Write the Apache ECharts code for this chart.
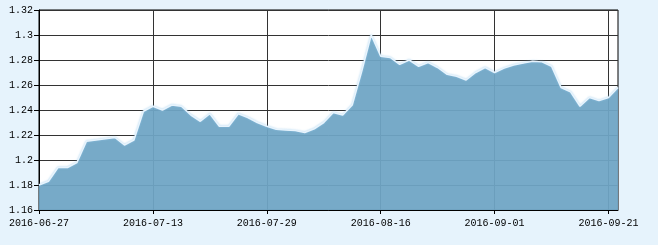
<!DOCTYPE html>
<html>
<head>
<meta charset="utf-8">
<script src="https://cdn.jsdelivr.net/npm/echarts@6/dist/echarts.min.js"></script>
<style>
html,body{margin:0;padding:0;background:#e6f3fc;}
#c{width:658px;height:245px;}
</style>
</head>
<body>
<div id="c"></div>
<script>
var dates = [
'2016-06-27','2016-06-28','2016-06-29','2016-06-30','2016-07-01',
'2016-07-04','2016-07-05','2016-07-06','2016-07-07','2016-07-08',
'2016-07-11','2016-07-12','2016-07-13','2016-07-14','2016-07-15',
'2016-07-18','2016-07-19','2016-07-20','2016-07-21','2016-07-22',
'2016-07-25','2016-07-26','2016-07-27','2016-07-28','2016-07-29',
'2016-08-01','2016-08-02','2016-08-03','2016-08-04','2016-08-05',
'2016-08-08','2016-08-09','2016-08-10','2016-08-11','2016-08-12',
'2016-08-15','2016-08-16','2016-08-17','2016-08-18','2016-08-19',
'2016-08-22','2016-08-23','2016-08-24','2016-08-25','2016-08-26',
'2016-08-29','2016-08-30','2016-08-31','2016-09-01','2016-09-02',
'2016-09-05','2016-09-06','2016-09-07','2016-09-08','2016-09-09',
'2016-09-12','2016-09-13','2016-09-14','2016-09-19','2016-09-20',
'2016-09-21','2016-09-22'
];
var values = [
1.180,1.183,1.194,1.194,1.198,
1.215,1.216,1.217,1.218,1.212,
1.216,1.239,1.243,1.240,1.244,
1.243,1.236,1.231,1.237,1.227,
1.227,1.237,1.234,1.230,1.227,
1.2245,1.224,1.2235,1.222,1.225,
1.230,1.238,1.236,1.244,1.271,
1.300,1.283,1.282,1.2765,1.280,
1.275,1.278,1.274,1.2685,1.267,
1.264,1.270,1.274,1.270,1.2735,
1.276,1.2775,1.279,1.2785,1.275,
1.258,1.2545,1.243,1.250,1.2475,
1.250,1.258
];
var yTicks = {min:1.16, max:1.32, interval:0.02};

var chart = echarts.init(document.getElementById('c'));
var font = {fontFamily:'Liberation Mono', fontSize:10, color:'#000'};
chart.setOption({
  backgroundColor:'#e6f3fc',
  animation:false,
  grid:{left:39,right:40,top:10,bottom:35,show:true,backgroundColor:'#ffffff',borderColor:'#000',borderWidth:1},
  xAxis:{
    type:'category',
    data:dates,
    boundaryGap:false,
    axisLine:{lineStyle:{color:'#000',width:1}},
    axisTick:{interval:11,length:4,lineStyle:{color:'#000'}},
    axisLabel:Object.assign({interval:11,margin:8},font),
    splitLine:{show:true,interval:11,lineStyle:{color:'#333',width:1}}
  },
  yAxis:{
    type:'value',
    min:yTicks.min,max:yTicks.max,interval:yTicks.interval,
    axisLine:{show:true,lineStyle:{color:'#000',width:1}},
    axisTick:{show:true,length:5,lineStyle:{color:'#000'}},
    axisLabel:Object.assign({margin:6},font),
    splitLine:{show:true,lineStyle:{color:'#333',width:1}}
  },
  series:[{
    type:'line',
    data:values,
    symbol:'none',
    smooth:false,
    lineStyle:{color:'#e8f4fd',width:1.5,shadowColor:'rgba(150,200,235,0.8)',shadowBlur:2},
    areaStyle:{color:'rgb(111,165,197)',opacity:0.94},
    z:3
  }]
});
</script>
</body>
</html>
